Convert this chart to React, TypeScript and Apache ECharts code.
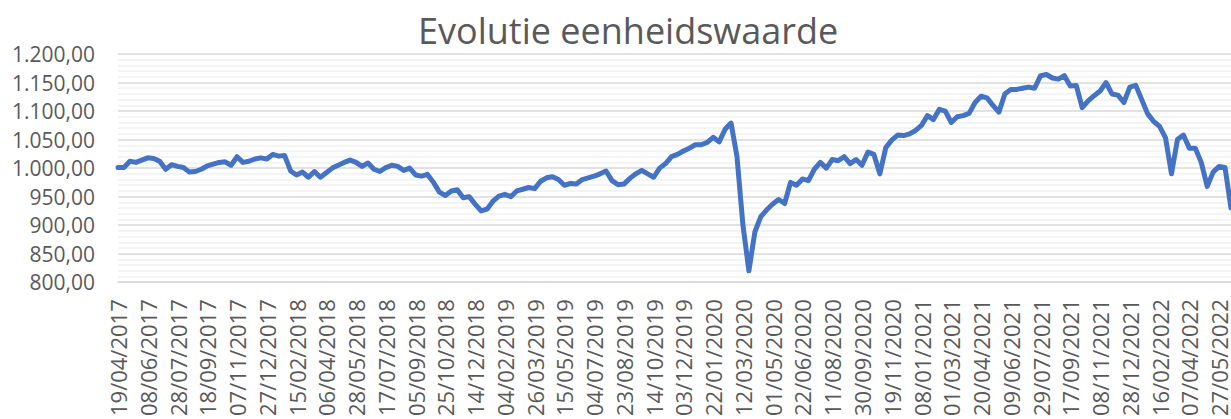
import React, { useEffect, useRef } from "react";
import * as echarts from "echarts";

const title = "Evolutie eenheidswaarde";

const tickLabels = [
  "19/04/2017", "08/06/2017", "28/07/2017", "18/09/2017", "07/11/2017", "27/12/2017",
  "15/02/2018", "06/04/2018", "28/05/2018", "17/07/2018", "05/09/2018", "25/10/2018", "14/12/2018",
  "04/02/2019", "26/03/2019", "15/05/2019", "04/07/2019", "23/08/2019", "14/10/2019", "03/12/2019",
  "22/01/2020", "12/03/2020", "01/05/2020", "22/06/2020", "11/08/2020", "30/09/2020", "19/11/2020",
  "08/01/2021", "01/03/2021", "20/04/2021", "09/06/2021", "29/07/2021", "17/09/2021", "08/11/2021", "28/12/2021",
  "16/02/2022", "07/04/2022", "27/05/2022",
];

// unit value, sampled 5 times per label interval (~10 days)
const unitValues = [
  1001, 1001, 1012, 1010, 1014, 1018, 1017, 1012, 998, 1006,
  1003, 1001, 993, 994, 998, 1004, 1007, 1010, 1011, 1005,
  1020, 1010, 1012, 1016, 1018, 1016, 1024, 1021, 1022, 995,
  988, 993, 984, 994, 984, 992, 1000, 1005, 1010, 1014,
  1010, 1003, 1009, 998, 994, 1001, 1005, 1003, 996, 1000,
  988, 986, 989, 975, 958, 952, 960, 962, 948, 950,
  937, 925, 928, 942, 951, 954, 950, 960, 963, 966,
  964, 977, 983, 985, 980, 970, 973, 972, 980, 983,
  986, 990, 995, 978, 971, 972, 982, 990, 996, 990,
  984, 1000, 1008, 1020, 1024, 1030, 1035, 1041, 1041, 1045,
  1054, 1046, 1068, 1079, 1020, 900, 820, 888, 915, 927,
  937, 945, 938, 975, 970, 981, 978, 998, 1010, 1000,
  1015, 1013, 1020, 1008, 1015, 1005, 1028, 1024, 990, 1036,
  1049, 1058, 1057, 1060, 1066, 1075, 1092, 1085, 1103, 1100,
  1080, 1090, 1092, 1096, 1115, 1126, 1123, 1110, 1098, 1130,
  1138, 1138, 1140, 1142, 1140, 1162, 1164, 1158, 1156, 1162,
  1144, 1145, 1106, 1118, 1127, 1135, 1150, 1130, 1128, 1115,
  1142, 1145, 1120, 1095, 1082, 1073, 1053, 990, 1050, 1058,
  1035, 1035, 1010, 968, 993, 1003, 1001, 930,
];

const STEPS_PER_LABEL = 5;
const TRAILING = 2;

function buildCategories(): string[] {
  const cats: string[] = [];
  tickLabels.forEach((t, k) => {
    cats.push(t);
    if (k < tickLabels.length - 1) {
      for (let j = 1; j < STEPS_PER_LABEL; j++) cats.push("");
    }
  });
  for (let j = 0; j < TRAILING; j++) cats.push("");
  return cats;
}

function fmtNL(v: number): string {
  const fixed = v.toFixed(2);
  const [intPart, dec] = fixed.split(".");
  const withDots = intPart.replace(/\B(?=(\d{3})+(?!\d))/g, ".");
  return withDots + "," + dec;
}

export default function App() {
  const ref = useRef<HTMLDivElement>(null);
  useEffect(() => {
    if (!ref.current) return;
    const chart = echarts.init(ref.current, null, { renderer: "svg" });
    const font = "'Open Sans', sans-serif";
    chart.setOption({
      animation: false,
      backgroundColor: "#ffffff",
      title: {
        text: title,
        left: 413,
        top: 7,
        textStyle: { fontFamily: font, fontSize: 36, fontWeight: "normal", color: "#595959" },
      },
      grid: { left: 118, right: 0, top: 54, bottom: 131.5, containLabel: false },
      xAxis: {
        type: "category",
        data: buildCategories(),
        boundaryGap: false,
        axisLine: { show: true, lineStyle: { color: "#d9d9d9", width: 1.5 } },
        axisTick: { show: false },
        axisLabel: {
          interval: STEPS_PER_LABEL - 1,
          rotate: 90,
          margin: 17,
          fontFamily: font,
          fontSize: 22,
          color: "#595959",
        },
        splitLine: { show: false },
      },
      yAxis: {
        type: "value",
        min: 800,
        max: 1200,
        interval: 50,
        axisLine: { show: false },
        axisTick: { show: false },
        axisLabel: {
          margin: 23,
          fontFamily: font,
          fontSize: 21,
          color: "#595959",
          formatter: (v: number) => fmtNL(v),
        },
        splitLine: { show: true, lineStyle: { color: "#d9d9d9", width: 1.5 } },
        minorTick: { show: false, splitNumber: 5 },
        minorSplitLine: { show: true, lineStyle: { color: "#f0f0f0", width: 1.5 } },
      },
      series: [
        {
          type: "line",
          data: unitValues,
          showSymbol: false,
          symbol: "none",
          lineStyle: { color: "#4472C4", width: 5, cap: "round", join: "round" },
          z: 3,
        },
      ],
    });
    return () => chart.dispose();
  }, []);
  return (
    <div
      ref={ref}
      style={{ position: "fixed", left: 0, top: 0, width: 1231, height: 419, background: "#fff" }}
    />
  );
}
